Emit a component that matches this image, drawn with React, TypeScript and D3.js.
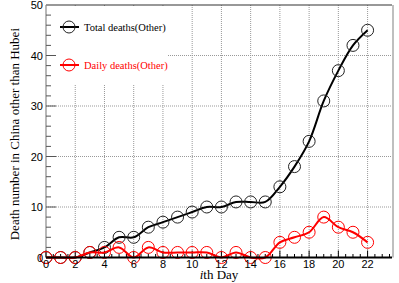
import * as d3 from "d3";

const days = d3.range(0, 23);
const totalDeaths = [0, 0, 0, 1, 2, 4, 4, 6, 7, 8, 9, 10, 10, 11, 11, 11, 14, 18, 23, 31, 37, 42, 45];
const dailyDeaths = [0, 0, 0, 1, 1, 2, 0, 2, 1, 1, 1, 1, 0, 1, 0, 0, 3, 4, 5, 8, 6, 5, 3];
const xTicks = [0, 2, 4, 6, 8, 10, 12, 14, 16, 18, 20, 22];
const yTicks = [0, 10, 20, 30, 40, 50];

const W = 399;
const H = 283;
const left = 46;
const right = 392;
const top = 5;
const bottom = 257.5;

export default function App() {
  const x = d3.scaleLinear().domain([0, 23.67]).range([left, right]);
  const y = d3.scaleLinear().domain([0, 50]).range([bottom, top]);

  const line = d3
    .line<number>()
    .x((_, i) => x(days[i]))
    .y((v) => y(v))
    .curve(d3.curveCatmullRom.alpha(0.5));

  const xMinor = d3.range(0, 23.6, 0.5);
  const yMinor = d3.range(0, 50, 2);

  const series = [
    { name: "Total deaths(Other)", values: totalDeaths, color: "#000", marker: "#222" },
    { name: "Daily deaths(Other)", values: dailyDeaths, color: "#ff0000", marker: "#ff0000" },
  ];

  return (
    <svg width={W} height={H} style={{ position: "absolute", left: 0, top: 0, background: "#fff" }}>
      {/* grid */}
      <g stroke="#999" strokeWidth={1} strokeDasharray="1,1">
        {xTicks.filter((t) => t > 0).map((t) => (
          <line key={"gx" + t} x1={x(t)} x2={x(t)} y1={top} y2={bottom} />
        ))}
        {yTicks.filter((t) => t > 0 && t < 50).map((t) => (
          <line key={"gy" + t} x1={left} x2={right} y1={y(t)} y2={y(t)} />
        ))}
      </g>
      {/* legend background */}
      <rect x={left + 1} y={top + 1} width={168 - left - 1} height={85 - top - 1} fill="#fff" />

      {/* frame */}
      <line x1={left} x2={right} y1={top} y2={top} stroke="#333" strokeWidth={1.2} />
      <line x1={right + 1} x2={right + 1} y1={top} y2={bottom} stroke="#aaa" strokeWidth={1.5} />
      <line x1={left} x2={left} y1={top} y2={bottom} stroke="#888" strokeWidth={1.2} />

      {/* y ticks */}
      <g stroke="#555" strokeWidth={1}>
        {yMinor.map((t) => (
          <line key={"ym" + t} x1={left} x2={left + (t % 10 === 0 ? 10 : 5)} y1={y(t)} y2={y(t)} />
        ))}
      </g>
      {/* x ticks */}
      <g stroke="#000" strokeWidth={1}>
        {xMinor.map((t) => (
          <line key={"xm" + t} x1={x(t)} x2={x(t)} y1={bottom} y2={bottom - (t % 2 === 0 ? 7 : 3.5)} />
        ))}
      </g>

      {/* series */}
      {series.map((s) => (
        <g key={s.name}>
          <path d={line(s.values) ?? ""} fill="none" stroke={s.color} strokeWidth={2} />
          {s.values.map((v, i) => (
            <circle key={i} cx={x(days[i])} cy={y(v)} r={6} fill="none" stroke={s.marker} strokeWidth={1} />
          ))}
        </g>
      ))}

      <line x1={left} x2={right} y1={bottom} y2={bottom} stroke="#000" strokeWidth={2} />

      {/* tick labels */}
      <g fontFamily="Liberation Sans, Arial, sans-serif" fontSize={11} fill="#000">
        {yTicks.map((t) => (
          <text key={"yl" + t} x={left - 3} y={y(t) + 4} textAnchor="end">
            {t}
          </text>
        ))}
        {xTicks.map((t) => (
          <text key={"xl" + t} x={x(t)} y={268} textAnchor="middle">
            {t}
          </text>
        ))}
      </g>

      {/* axis titles */}
      <text
        fontFamily="Liberation Serif, Times New Roman, serif"
        fontSize={13}
        textAnchor="end"
        transform={`translate(18.5, 28) rotate(-90)`}
      >
        Death number in China other than Hubei
      </text>
      <text
        fontFamily="Liberation Serif, Times New Roman, serif"
        fontSize={13}
        textAnchor="middle"
        x={(left + right) / 2}
        y={279}
      >
        <tspan fontStyle="italic">i</tspan>th Day
      </text>

      {/* legend */}
      {series.map((s, i) => {
        const ly = 27 + i * 38;
        return (
          <g key={"lg" + s.name}>
            <line x1={60} x2={79} y1={ly} y2={ly} stroke={s.color} strokeWidth={2} />
            <circle cx={69} cy={ly} r={6} fill="none" stroke={s.marker} strokeWidth={1} />
            <text
              x={84}
              y={ly + 4}
              fontFamily="Liberation Serif, Times New Roman, serif"
              fontSize={10.5}
              fill={s.color}
            >
              {s.name}
            </text>
          </g>
        );
      })}
    </svg>
  );
}
